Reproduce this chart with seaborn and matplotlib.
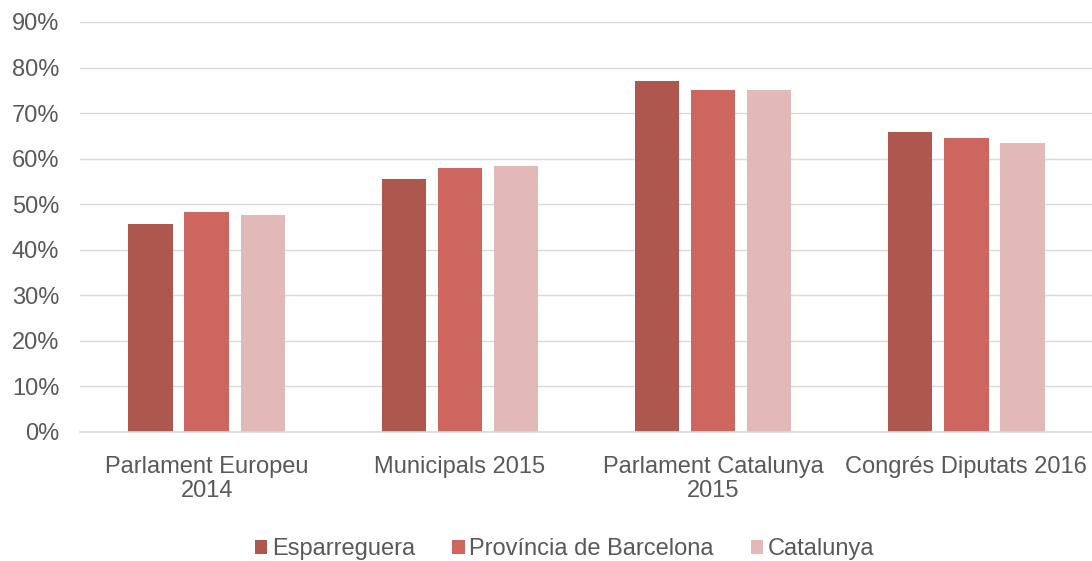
import pandas as pd
import matplotlib
matplotlib.use("Agg")
import matplotlib.pyplot as plt
import seaborn as sns
from matplotlib.patches import Patch
from matplotlib.ticker import PercentFormatter

# turnout by election
elections = ["Parlament Europeu\n2014", "Municipals 2015",
             "Parlament Catalunya\n2015", "Congrés Diputats 2016"]
series = ["Esparreguera", "Província de Barcelona", "Catalunya"]
esparreguera = [0.456, 0.556, 0.770, 0.658]
provincia = [0.483, 0.580, 0.750, 0.645]
catalunya = [0.476, 0.585, 0.750, 0.635]
colors = ["#AE574F", "#CD665F", "#E2B9B7"]

rows = []
for name, vals in zip(series, [esparreguera, provincia, catalunya]):
    for el, v in zip(elections, vals):
        rows.append({"election": el, "area": name, "turnout": v})
df = pd.DataFrame(rows)

sns.set_style("white")
plt.rcParams["font.family"] = ["Liberation Sans", "DejaVu Sans"]
txt = "#595959"

fig = plt.figure(figsize=(10.92, 5.61), dpi=100)
ax = fig.add_axes([80 / 1092, 129 / 561, 1013 / 1092, 410 / 561])

sns.barplot(data=df, x="election", y="turnout", hue="area",
            order=elections, hue_order=series, palette=colors,
            saturation=1, width=0.664, gap=0.21, linewidth=0,
            errorbar=None, legend=False, ax=ax)

ax.set_ylim(0, 0.9)
ax.set_xlim(-0.5, 3.5)
ax.set_yticks([i / 10 for i in range(10)])
ax.yaxis.set_major_formatter(PercentFormatter(1.0, decimals=0))
ax.grid(axis="y", color="#D9D9D9", lw=1.0)
ax.set_axisbelow(True)
for s in ["top", "right", "left"]:
    ax.spines[s].set_visible(False)
ax.spines["bottom"].set_color("#D9D9D9")
ax.spines["bottom"].set_linewidth(1.2)
ax.set_xlabel("")
ax.set_ylabel("")
ax.tick_params(axis="y", length=0, pad=15, labelsize=17, labelcolor=txt)
ax.tick_params(axis="x", length=0, pad=17.5, labelsize=17, labelcolor=txt)
for lab in ax.get_xticklabels():
    lab.set_linespacing(1.1)

handles = [Patch(facecolor=c, edgecolor="none") for c in colors]
fig.legend(handles, series, loc="center", bbox_to_anchor=(0.517, 0.021),
           ncol=3, frameon=False, fontsize=17, labelcolor=txt,
           handlelength=0.53, handleheight=0.53, handletextpad=0.19,
           columnspacing=1.57, borderpad=0, borderaxespad=0)

fig.savefig("out.png", dpi=100)
